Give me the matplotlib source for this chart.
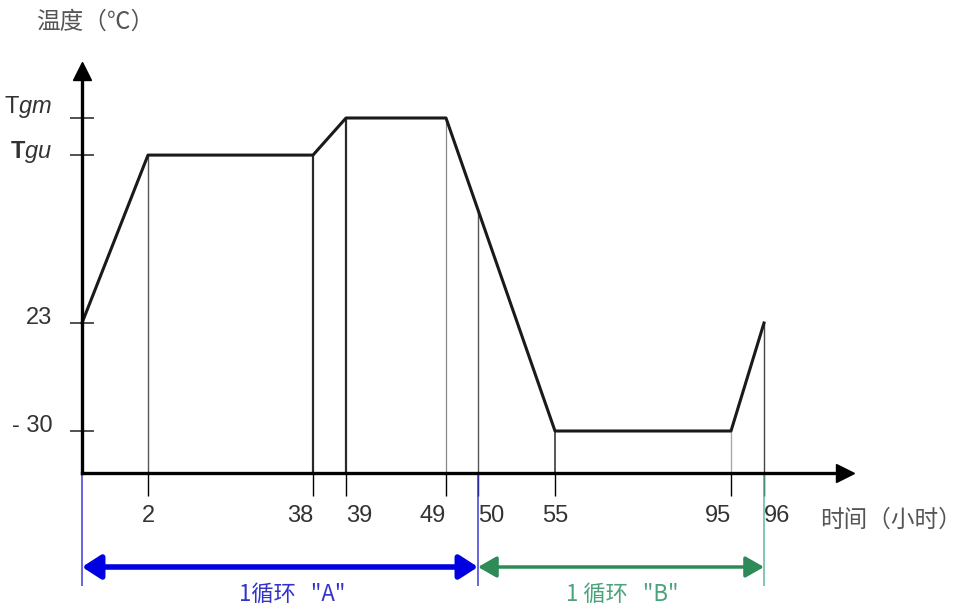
import numpy as np
import matplotlib
matplotlib.use('Agg')
import matplotlib.pyplot as plt
from matplotlib.transforms import ScaledTranslation

plt.rcParams['font.family'] = ['Liberation Sans', 'DejaVu Sans']
plt.rcParams['mathtext.fontset'] = 'custom'
plt.rcParams['mathtext.rm'] = 'Liberation Sans'
plt.rcParams['mathtext.it'] = 'Liberation Sans:italic'
plt.rcParams['mathtext.bf'] = 'Liberation Sans:bold'
CJK = ['Noto Sans CJK SC', 'DejaVu Sans']

# temperature profile (hours, degC); Tgu / Tgm are symbolic levels
TGU = 105.4
TGM = 123.6
hours = [0, 2, 38, 39, 49, 55, 95, 96]
temps = [23, TGU, TGU, TGM, TGM, -30, -30, 23]

tick_hours = [2, 38, 39, 49, 50, 55, 95, 96]
tick_labels = ['2', '38', '39', '49', '50', '55', '95', '96']
ytick_vals = [-30, 23, TGU, TGM]
ytick_labels = ['- 30', '23', r'$\mathbf{T}\mathit{gu}$', r'T$\mathit{gm}$']

# time axis in the original is not to scale: hour -> pixel column
KEY_H = [0, 2, 38, 39, 49, 50, 55, 95, 96]
KEY_PX = [82, 148, 313, 346, 446, 478, 555, 731, 764]


def fwd(h):
    h = np.asarray(h, dtype=float)
    px = np.interp(h, KEY_H, KEY_PX)
    px = np.where(h < KEY_H[0], KEY_PX[0] + (h - KEY_H[0]) * 33, px)
    px = np.where(h > KEY_H[-1], KEY_PX[-1] + (h - KEY_H[-1]) * 33, px)
    return px


def inv(px):
    px = np.asarray(px, dtype=float)
    h = np.interp(px, KEY_PX, KEY_H)
    h = np.where(px < KEY_PX[0], KEY_H[0] + (px - KEY_PX[0]) / 33, h)
    h = np.where(px > KEY_PX[-1], KEY_H[-1] + (px - KEY_PX[-1]) / 33, h)
    return h


def temp_at(row):
    # pixel row -> temperature (linear y axis)
    return 23 + (323 - row) * 53 / 108


fig = plt.figure(figsize=(9.74, 6.1), dpi=100)
ax = fig.add_axes([0, 0, 1, 1])
ax.set_xscale('function', functions=(fwd, inv))
ax.set_xlim(float(inv(0)), float(inv(974)))
ax.set_ylim(temp_at(610), temp_at(0))
ax.minorticks_off()

y_axis = temp_at(472.5)

# profile
ax.plot(hours, temps, color='#1a1a1a', lw=2.2, zorder=3)

# drop lines from the profile down to the axis
tops = np.interp(fwd(tick_hours), fwd(hours), temps)
drop_cols = ['#555555', '#2a2a2a', '#2a2a2a', '#888888', '#555555', '#3a3a3a', '#aaaaaa', '#444444']
drop_lw = [1.0, 1.6, 1.6, 0.9, 1.0, 1.2, 1.0, 1.0]
ax.vlines(tick_hours, y_axis, tops, colors=drop_cols, linewidths=drop_lw, zorder=2)

# axes with arrows
ax.spines[['top', 'right']].set_visible(False)
ax.spines['left'].set_position(('data', 0))
ax.spines['bottom'].set_position(('data', y_axis))
for s in ['left', 'bottom']:
    ax.spines[s].set_linewidth(2.4)
    ax.spines[s].set_color('black')
    ax.spines[s].set_zorder(4)
ax.spines['left'].set_bounds(y_axis, temp_at(74))
ax.spines['bottom'].set_bounds(0, float(inv(842)))
ax.plot([0], [temp_at(71)], marker='^', ms=13, color='black', clip_on=False, zorder=5)
ax.plot([float(inv(845))], [y_axis], marker='>', ms=13, color='black', clip_on=False, zorder=5)

# ticks
ax.set_xticks(tick_hours, tick_labels)
ax.tick_params(axis='x', direction='out', length=16.5, width=1, pad=7,
               labelsize=17, labelcolor='#333333')
for t, c in zip(ax.xaxis.get_major_ticks(), drop_cols):
    t.tick1line.set_color(c)
ax.xaxis.get_major_ticks()[4].tick1line.set_color('#3b3bd6')
ax.xaxis.get_major_ticks()[7].tick1line.set_color('#5fb89a')
for lab, ha in zip(ax.get_xticklabels(),
                   ['center', 'right', 'left', 'right', 'left', 'center', 'right', 'left']):
    lab.set_ha(ha)

ax.set_yticks(ytick_vals, ytick_labels)
ax.tick_params(axis='y', direction='inout', length=17, width=1.2, pad=13,
               labelsize=17, labelcolor='#333333', color='#333333')
shift = ScaledTranslation(0, 0.07, fig.dpi_scale_trans)
for lab in ax.get_yticklabels():
    lab.set_transform(lab.get_transform() + shift)
# the Tgm label sits a little higher than its level in the original
ax.get_yticklabels()[3].set_transform(ax.get_yticklabels()[3].get_transform()
                                      + ScaledTranslation(0, 0.08, fig.dpi_scale_trans))

# cycle markers below the axis
ax.vlines([0, 50], temp_at(474), temp_at(586), color='#3b3bd6', lw=1.1, zorder=2)
ax.vlines([96], temp_at(474), temp_at(586), color='#5fb89a', lw=1.1, zorder=2)
trans = ax.get_xaxis_transform()
ya = 1 - 567 / 610
ax.annotate('', xy=(0, ya), xytext=(50, ya), xycoords=trans, textcoords=trans,
            arrowprops=dict(arrowstyle='<|-|>,head_length=0.7,head_width=0.45',
                            color='#0000e0', lw=4, shrinkA=0, shrinkB=0, mutation_scale=16))
ax.annotate('', xy=(50, ya), xytext=(96, ya), xycoords=trans, textcoords=trans,
            arrowprops=dict(arrowstyle='<|-|>,head_length=0.7,head_width=0.4',
                            color='#2e8b57', lw=2.5, shrinkA=0, shrinkB=0, mutation_scale=16))

fig.text(292 / 974, 1 - 594 / 610, '1循环   "A"', ha='center', va='center',
         fontsize=16, color='#3333cc', family=CJK)
fig.text(622 / 974, 1 - 594 / 610, '1 循环   "B"', ha='center', va='center',
         fontsize=16, color='#4aa37a', family=CJK)

fig.text(36 / 974, 1 - 22 / 610, '温度（℃）', ha='left', va='center',
         fontsize=17, color='#555555', family=CJK)
fig.text(820 / 974, 1 - 520 / 610, '时间（小时）', ha='left', va='center',
         fontsize=17, color='#555555', family=CJK)

fig.savefig('out.png', dpi=100)
